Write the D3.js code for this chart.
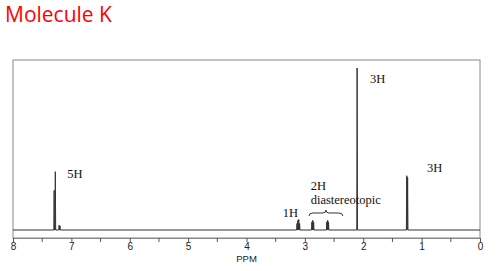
<!DOCTYPE html>
<html>
<head>
<meta charset="utf-8">
<script src="https://cdn.jsdelivr.net/npm/d3@7"></script>
<style>
  body { margin: 0; background: #fff; }
  svg { display: block; }
</style>
</head>
<body>
<div id="chart"></div>
<script>
// peak positions (ppm) and heights (relative to tallest = 1)
var peakPpm    = [7.295, 7.275, 7.21, 7.195, 3.135, 3.12, 3.105, 3.09, 2.88, 2.865, 2.85, 2.625, 2.61, 2.595, 2.105, 1.255, 1.24];
var peakHeight = [0.245, 0.36, 0.03, 0.025, 0.04, 0.06, 0.065, 0.04, 0.05, 0.06, 0.05, 0.05, 0.06, 0.05, 1.0, 0.335, 0.325];
var tickValues = [8, 7, 6, 5, 4, 3, 2, 1, 0];
var minorTicks = [7.5, 6.5, 5.5, 4.5, 3.5, 2.5, 1.5, 0.5];
var labelText  = ["5H", "3H", "3H", "1H", "2H", "diastereotopic"];
var labelPpm   = [7.07, 1.885, 0.91, 3.38, 2.90, 2.90];
var labelLevel = [0.32, 0.905, 0.355, 0.08, 0.245, 0.16];

var width = 502, height = 271;
var svg = d3.select("#chart").append("svg")
    .attr("width", width)
    .attr("height", height);

var x = d3.scaleLinear().domain([8, 0]).range([13, 480]);
var y = d3.scaleLinear().domain([0, 1]).range([230, 68]);

// title
svg.append("text")
    .attr("x", 5)
    .attr("y", 22)
    .attr("font-family", "'Open Sans', sans-serif")
    .attr("font-size", 21)
    .attr("fill", "#ff0000")
    .text("Molecule K");

// frame
svg.append("rect")
    .attr("x", 13)
    .attr("y", 60)
    .attr("width", 467)
    .attr("height", 178)
    .attr("fill", "none")
    .attr("stroke", "#888")
    .attr("stroke-width", 1);

// spectrum trace: baseline with narrow peaks
var pts = [[8, 0]];
var order = d3.range(peakPpm.length).sort(function(a, b) { return peakPpm[b] - peakPpm[a]; });
order.forEach(function(i) {
    var w = 0.006;
    pts.push([peakPpm[i] + w, 0]);
    pts.push([peakPpm[i], peakHeight[i]]);
    pts.push([peakPpm[i] - w, 0]);
});
pts.push([0, 0]);

var line = d3.line()
    .x(function(d) { return x(d[0]); })
    .y(function(d) { return y(d[1]); });

svg.append("path")
    .datum(pts)
    .attr("d", line)
    .attr("fill", "none")
    .attr("stroke", "#333")
    .attr("stroke-width", 1);

// axis
var axis = d3.axisBottom(x)
    .tickValues(tickValues)
    .tickSize(4)
    .tickFormat(d3.format("d"));

var gAxis = svg.append("g")
    .attr("transform", "translate(0,238)")
    .call(axis);
gAxis.select(".domain").attr("stroke", "#888");
gAxis.selectAll(".tick line").attr("stroke", "#555");
gAxis.selectAll(".tick text")
    .attr("font-family", "'Liberation Sans', Arial, sans-serif")
    .attr("font-size", 10)
    .attr("fill", "#222")
    .attr("y", 12)
    .attr("dy", 0);

svg.append("g")
    .selectAll("line")
    .data(minorTicks)
    .enter().append("line")
    .attr("x1", function(d) { return x(d); })
    .attr("x2", function(d) { return x(d); })
    .attr("y1", 238)
    .attr("y2", 242)
    .attr("stroke", "#555");

svg.append("text")
    .attr("x", x(4))
    .attr("y", 262)
    .attr("text-anchor", "middle")
    .attr("font-family", "'Liberation Sans', Arial, sans-serif")
    .attr("font-size", 9.5)
    .attr("fill", "#222")
    .text("PPM");

// integration labels
svg.append("g")
    .selectAll("text")
    .data(labelText)
    .enter().append("text")
    .attr("x", function(d, i) { return x(labelPpm[i]); })
    .attr("y", function(d, i) { return y(labelLevel[i]); })
    .attr("font-family", "'Liberation Serif', 'Times New Roman', serif")
    .attr("font-size", 12.5)
    .attr("fill", "#111")
    .text(function(d) { return d; });

// brace over the diastereotopic pair
var b0 = x(2.93), b1 = x(2.35), bm = (b0 + b1) / 2, by = y(0.105);
svg.append("path")
    .attr("d", "M" + b0 + "," + (by + 3) + " Q" + b0 + "," + by + " " + (b0 + 4) + "," + by +
               " L" + (bm - 3) + "," + by + " Q" + bm + "," + by + " " + bm + "," + (by - 3) +
               " Q" + bm + "," + by + " " + (bm + 3) + "," + by +
               " L" + (b1 - 4) + "," + by + " Q" + b1 + "," + by + " " + b1 + "," + (by + 3))
    .attr("fill", "none")
    .attr("stroke", "#333")
    .attr("stroke-width", 1);
</script>
</body>
</html>
